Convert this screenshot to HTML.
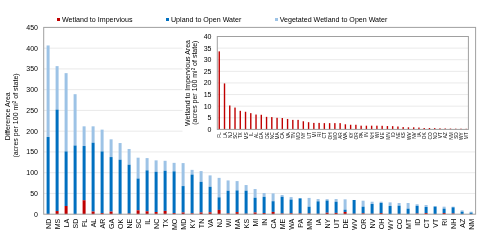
<!DOCTYPE html><html><head><meta charset="utf-8"><style>html,body{margin:0;padding:0;background:#fff;}svg{display:block;will-change:transform;}text{font-family:"Liberation Sans",sans-serif;}</style></head><body>
<svg width="480" height="239" viewBox="0 0 480 239">
<rect x="0" y="0" width="480" height="239" fill="#fff"/>
<line x1="43.7" y1="193.44" x2="475.6" y2="193.44" stroke="#EAEAEA" stroke-width="1"/>
<line x1="43.7" y1="172.69" x2="475.6" y2="172.69" stroke="#EAEAEA" stroke-width="1"/>
<line x1="43.7" y1="151.93" x2="475.6" y2="151.93" stroke="#EAEAEA" stroke-width="1"/>
<line x1="43.7" y1="131.18" x2="475.6" y2="131.18" stroke="#EAEAEA" stroke-width="1"/>
<line x1="43.7" y1="110.42" x2="475.6" y2="110.42" stroke="#EAEAEA" stroke-width="1"/>
<line x1="43.7" y1="89.67" x2="475.6" y2="89.67" stroke="#EAEAEA" stroke-width="1"/>
<line x1="43.7" y1="68.91" x2="475.6" y2="68.91" stroke="#EAEAEA" stroke-width="1"/>
<line x1="43.7" y1="48.16" x2="475.6" y2="48.16" stroke="#EAEAEA" stroke-width="1"/>
<rect x="46.60" y="45.46" width="3.0" height="91.56" fill="#9DC3E6"/>
<rect x="46.60" y="137.02" width="3.0" height="76.95" fill="#0070C0"/>
<rect x="46.60" y="213.97" width="3.0" height="0.23" fill="#C00000"/>
<rect x="55.60" y="66.13" width="3.0" height="43.49" fill="#9DC3E6"/>
<rect x="55.60" y="109.62" width="3.0" height="101.42" fill="#0070C0"/>
<rect x="55.60" y="211.05" width="3.0" height="3.15" fill="#C00000"/>
<rect x="64.60" y="73.15" width="3.0" height="78.27" fill="#9DC3E6"/>
<rect x="64.60" y="151.42" width="3.0" height="54.56" fill="#0070C0"/>
<rect x="64.60" y="205.98" width="3.0" height="8.22" fill="#C00000"/>
<rect x="73.60" y="94.19" width="3.0" height="51.33" fill="#9DC3E6"/>
<rect x="73.60" y="145.52" width="3.0" height="68.56" fill="#0070C0"/>
<rect x="73.60" y="214.08" width="3.0" height="0.12" fill="#C00000"/>
<rect x="82.60" y="126.33" width="3.0" height="19.68" fill="#9DC3E6"/>
<rect x="82.60" y="146.02" width="3.0" height="54.24" fill="#0070C0"/>
<rect x="82.60" y="200.25" width="3.0" height="13.95" fill="#C00000"/>
<rect x="91.60" y="126.33" width="3.0" height="16.38" fill="#9DC3E6"/>
<rect x="91.60" y="142.71" width="3.0" height="68.83" fill="#0070C0"/>
<rect x="91.60" y="211.54" width="3.0" height="2.66" fill="#C00000"/>
<rect x="100.60" y="129.63" width="3.0" height="21.79" fill="#9DC3E6"/>
<rect x="100.60" y="151.42" width="3.0" height="61.66" fill="#0070C0"/>
<rect x="100.60" y="213.08" width="3.0" height="1.12" fill="#C00000"/>
<rect x="109.60" y="139.33" width="3.0" height="17.74" fill="#9DC3E6"/>
<rect x="109.60" y="157.07" width="3.0" height="54.51" fill="#0070C0"/>
<rect x="109.60" y="211.58" width="3.0" height="2.62" fill="#C00000"/>
<rect x="118.60" y="143.04" width="3.0" height="16.67" fill="#9DC3E6"/>
<rect x="118.60" y="159.71" width="3.0" height="54.24" fill="#0070C0"/>
<rect x="118.60" y="213.95" width="3.0" height="0.25" fill="#C00000"/>
<rect x="127.60" y="148.99" width="3.0" height="15.72" fill="#9DC3E6"/>
<rect x="127.60" y="164.71" width="3.0" height="48.97" fill="#0070C0"/>
<rect x="127.60" y="213.68" width="3.0" height="0.52" fill="#C00000"/>
<rect x="136.60" y="157.69" width="3.0" height="20.84" fill="#9DC3E6"/>
<rect x="136.60" y="178.53" width="3.0" height="31.77" fill="#0070C0"/>
<rect x="136.60" y="210.30" width="3.0" height="3.90" fill="#C00000"/>
<rect x="145.60" y="158.10" width="3.0" height="12.25" fill="#9DC3E6"/>
<rect x="145.60" y="170.36" width="3.0" height="40.93" fill="#0070C0"/>
<rect x="145.60" y="211.29" width="3.0" height="2.91" fill="#C00000"/>
<rect x="154.60" y="160.37" width="3.0" height="11.39" fill="#9DC3E6"/>
<rect x="154.60" y="171.76" width="3.0" height="40.24" fill="#0070C0"/>
<rect x="154.60" y="212.00" width="3.0" height="2.20" fill="#C00000"/>
<rect x="163.60" y="160.79" width="3.0" height="9.99" fill="#9DC3E6"/>
<rect x="163.60" y="170.77" width="3.0" height="40.11" fill="#0070C0"/>
<rect x="163.60" y="210.88" width="3.0" height="3.32" fill="#C00000"/>
<rect x="172.60" y="162.85" width="3.0" height="8.50" fill="#9DC3E6"/>
<rect x="172.60" y="171.35" width="3.0" height="41.73" fill="#0070C0"/>
<rect x="172.60" y="213.08" width="3.0" height="1.12" fill="#C00000"/>
<rect x="181.60" y="163.10" width="3.0" height="22.98" fill="#9DC3E6"/>
<rect x="181.60" y="186.08" width="3.0" height="26.42" fill="#0070C0"/>
<rect x="181.60" y="212.50" width="3.0" height="1.70" fill="#C00000"/>
<rect x="190.60" y="169.87" width="3.0" height="4.70" fill="#9DC3E6"/>
<rect x="190.60" y="174.57" width="3.0" height="38.80" fill="#0070C0"/>
<rect x="190.60" y="213.37" width="3.0" height="0.83" fill="#C00000"/>
<rect x="199.60" y="171.10" width="3.0" height="10.73" fill="#9DC3E6"/>
<rect x="199.60" y="181.83" width="3.0" height="30.67" fill="#0070C0"/>
<rect x="199.60" y="212.50" width="3.0" height="1.70" fill="#C00000"/>
<rect x="208.60" y="175.39" width="3.0" height="11.39" fill="#9DC3E6"/>
<rect x="208.60" y="186.78" width="3.0" height="25.55" fill="#0070C0"/>
<rect x="208.60" y="212.33" width="3.0" height="1.87" fill="#C00000"/>
<rect x="217.60" y="177.87" width="3.0" height="19.47" fill="#9DC3E6"/>
<rect x="217.60" y="197.34" width="3.0" height="12.58" fill="#0070C0"/>
<rect x="217.60" y="209.92" width="3.0" height="4.28" fill="#C00000"/>
<rect x="226.60" y="180.43" width="3.0" height="10.31" fill="#9DC3E6"/>
<rect x="226.60" y="190.74" width="3.0" height="22.79" fill="#0070C0"/>
<rect x="226.60" y="213.54" width="3.0" height="0.66" fill="#C00000"/>
<rect x="235.60" y="181.09" width="3.0" height="9.33" fill="#9DC3E6"/>
<rect x="235.60" y="190.41" width="3.0" height="21.71" fill="#0070C0"/>
<rect x="235.60" y="212.12" width="3.0" height="2.08" fill="#C00000"/>
<rect x="244.60" y="185.05" width="3.0" height="5.65" fill="#9DC3E6"/>
<rect x="244.60" y="190.70" width="3.0" height="23.08" fill="#0070C0"/>
<rect x="244.60" y="213.78" width="3.0" height="0.42" fill="#C00000"/>
<rect x="253.60" y="189.05" width="3.0" height="8.67" fill="#9DC3E6"/>
<rect x="253.60" y="197.72" width="3.0" height="14.82" fill="#0070C0"/>
<rect x="253.60" y="212.54" width="3.0" height="1.66" fill="#C00000"/>
<rect x="262.60" y="193.06" width="3.0" height="3.79" fill="#9DC3E6"/>
<rect x="262.60" y="196.85" width="3.0" height="16.19" fill="#0070C0"/>
<rect x="262.60" y="213.04" width="3.0" height="1.16" fill="#C00000"/>
<rect x="271.60" y="193.38" width="3.0" height="7.84" fill="#9DC3E6"/>
<rect x="271.60" y="201.22" width="3.0" height="10.69" fill="#0070C0"/>
<rect x="271.60" y="211.92" width="3.0" height="2.28" fill="#C00000"/>
<rect x="280.60" y="195.02" width="3.0" height="1.74" fill="#9DC3E6"/>
<rect x="280.60" y="196.77" width="3.0" height="16.79" fill="#0070C0"/>
<rect x="280.60" y="213.56" width="3.0" height="0.64" fill="#C00000"/>
<rect x="289.60" y="197.10" width="3.0" height="2.48" fill="#9DC3E6"/>
<rect x="289.60" y="199.57" width="3.0" height="13.71" fill="#0070C0"/>
<rect x="289.60" y="213.29" width="3.0" height="0.91" fill="#C00000"/>
<rect x="298.60" y="198.34" width="3.0" height="0.00" fill="#9DC3E6"/>
<rect x="298.60" y="198.34" width="3.0" height="15.20" fill="#0070C0"/>
<rect x="298.60" y="213.54" width="3.0" height="0.66" fill="#C00000"/>
<rect x="307.60" y="197.92" width="3.0" height="8.79" fill="#9DC3E6"/>
<rect x="307.60" y="206.71" width="3.0" height="6.89" fill="#0070C0"/>
<rect x="307.60" y="213.60" width="3.0" height="0.60" fill="#C00000"/>
<rect x="316.60" y="199.04" width="3.0" height="2.31" fill="#9DC3E6"/>
<rect x="316.60" y="201.35" width="3.0" height="12.52" fill="#0070C0"/>
<rect x="316.60" y="213.87" width="3.0" height="0.33" fill="#C00000"/>
<rect x="325.60" y="199.12" width="3.0" height="1.40" fill="#9DC3E6"/>
<rect x="325.60" y="200.52" width="3.0" height="12.22" fill="#0070C0"/>
<rect x="325.60" y="212.75" width="3.0" height="1.45" fill="#C00000"/>
<rect x="334.60" y="199.04" width="3.0" height="2.68" fill="#9DC3E6"/>
<rect x="334.60" y="201.72" width="3.0" height="11.19" fill="#0070C0"/>
<rect x="334.60" y="212.91" width="3.0" height="1.29" fill="#C00000"/>
<rect x="343.60" y="199.33" width="3.0" height="10.36" fill="#9DC3E6"/>
<rect x="343.60" y="209.68" width="3.0" height="2.28" fill="#0070C0"/>
<rect x="343.60" y="211.96" width="3.0" height="2.24" fill="#C00000"/>
<rect x="352.60" y="199.99" width="3.0" height="0.00" fill="#9DC3E6"/>
<rect x="352.60" y="199.99" width="3.0" height="13.84" fill="#0070C0"/>
<rect x="352.60" y="213.83" width="3.0" height="0.37" fill="#C00000"/>
<rect x="361.60" y="200.69" width="3.0" height="5.98" fill="#9DC3E6"/>
<rect x="361.60" y="206.67" width="3.0" height="6.70" fill="#0070C0"/>
<rect x="361.60" y="213.37" width="3.0" height="0.83" fill="#C00000"/>
<rect x="370.60" y="201.72" width="3.0" height="2.27" fill="#9DC3E6"/>
<rect x="370.60" y="203.99" width="3.0" height="9.84" fill="#0070C0"/>
<rect x="370.60" y="213.83" width="3.0" height="0.37" fill="#C00000"/>
<rect x="379.60" y="201.72" width="3.0" height="1.28" fill="#9DC3E6"/>
<rect x="379.60" y="203.00" width="3.0" height="10.08" fill="#0070C0"/>
<rect x="379.60" y="213.08" width="3.0" height="1.12" fill="#C00000"/>
<rect x="388.60" y="202.38" width="3.0" height="3.63" fill="#9DC3E6"/>
<rect x="388.60" y="206.01" width="3.0" height="8.07" fill="#0070C0"/>
<rect x="388.60" y="214.08" width="3.0" height="0.12" fill="#C00000"/>
<rect x="397.60" y="203.00" width="3.0" height="2.68" fill="#9DC3E6"/>
<rect x="397.60" y="205.68" width="3.0" height="8.27" fill="#0070C0"/>
<rect x="397.60" y="213.95" width="3.0" height="0.25" fill="#C00000"/>
<rect x="406.60" y="203.00" width="3.0" height="5.65" fill="#9DC3E6"/>
<rect x="406.60" y="208.65" width="3.0" height="5.45" fill="#0070C0"/>
<rect x="406.60" y="214.10" width="3.0" height="0.10" fill="#C00000"/>
<rect x="415.60" y="204.24" width="3.0" height="1.61" fill="#9DC3E6"/>
<rect x="415.60" y="205.84" width="3.0" height="7.77" fill="#0070C0"/>
<rect x="415.60" y="213.62" width="3.0" height="0.58" fill="#C00000"/>
<rect x="424.60" y="205.02" width="3.0" height="1.98" fill="#9DC3E6"/>
<rect x="424.60" y="207.00" width="3.0" height="6.08" fill="#0070C0"/>
<rect x="424.60" y="213.08" width="3.0" height="1.12" fill="#C00000"/>
<rect x="433.60" y="206.01" width="3.0" height="0.66" fill="#9DC3E6"/>
<rect x="433.60" y="206.67" width="3.0" height="7.34" fill="#0070C0"/>
<rect x="433.60" y="214.01" width="3.0" height="0.19" fill="#C00000"/>
<rect x="442.60" y="206.67" width="3.0" height="1.98" fill="#9DC3E6"/>
<rect x="442.60" y="208.65" width="3.0" height="4.39" fill="#0070C0"/>
<rect x="442.60" y="213.04" width="3.0" height="1.16" fill="#C00000"/>
<rect x="451.60" y="206.67" width="3.0" height="0.66" fill="#9DC3E6"/>
<rect x="451.60" y="207.33" width="3.0" height="6.21" fill="#0070C0"/>
<rect x="451.60" y="213.54" width="3.0" height="0.66" fill="#C00000"/>
<rect x="460.60" y="210.30" width="3.0" height="1.40" fill="#9DC3E6"/>
<rect x="460.60" y="211.70" width="3.0" height="2.33" fill="#0070C0"/>
<rect x="460.60" y="214.03" width="3.0" height="0.17" fill="#C00000"/>
<rect x="469.60" y="211.70" width="3.0" height="0.95" fill="#9DC3E6"/>
<rect x="469.60" y="212.65" width="3.0" height="1.40" fill="#0070C0"/>
<rect x="469.60" y="214.05" width="3.0" height="0.15" fill="#C00000"/>
<rect x="43.7" y="27.4" width="431.90000000000003" height="186.79999999999998" fill="none" stroke="#A0A0A0" stroke-width="1"/>
<text x="38" y="216.70" font-size="7" text-anchor="end" fill="#000000">0</text>
<text x="38" y="195.94" font-size="7" text-anchor="end" fill="#000000">50</text>
<text x="38" y="175.19" font-size="7" text-anchor="end" fill="#000000">100</text>
<text x="38" y="154.43" font-size="7" text-anchor="end" fill="#000000">150</text>
<text x="38" y="133.68" font-size="7" text-anchor="end" fill="#000000">200</text>
<text x="38" y="112.92" font-size="7" text-anchor="end" fill="#000000">250</text>
<text x="38" y="92.17" font-size="7" text-anchor="end" fill="#000000">300</text>
<text x="38" y="71.41" font-size="7" text-anchor="end" fill="#000000">350</text>
<text x="38" y="50.66" font-size="7" text-anchor="end" fill="#000000">400</text>
<text x="38" y="29.90" font-size="7" text-anchor="end" fill="#000000">450</text>
<text transform="translate(50.90,218.8) rotate(-90)" font-size="7" text-anchor="end" fill="#000000">ND</text>
<text transform="translate(59.90,218.8) rotate(-90)" font-size="7" text-anchor="end" fill="#000000">MS</text>
<text transform="translate(68.90,218.8) rotate(-90)" font-size="7" text-anchor="end" fill="#000000">LA</text>
<text transform="translate(77.90,218.8) rotate(-90)" font-size="7" text-anchor="end" fill="#000000">SD</text>
<text transform="translate(86.90,218.8) rotate(-90)" font-size="7" text-anchor="end" fill="#000000">FL</text>
<text transform="translate(95.90,218.8) rotate(-90)" font-size="7" text-anchor="end" fill="#000000">AL</text>
<text transform="translate(104.90,218.8) rotate(-90)" font-size="7" text-anchor="end" fill="#000000">AR</text>
<text transform="translate(113.90,218.8) rotate(-90)" font-size="7" text-anchor="end" fill="#000000">GA</text>
<text transform="translate(122.90,218.8) rotate(-90)" font-size="7" text-anchor="end" fill="#000000">OK</text>
<text transform="translate(131.90,218.8) rotate(-90)" font-size="7" text-anchor="end" fill="#000000">NE</text>
<text transform="translate(140.90,218.8) rotate(-90)" font-size="7" text-anchor="end" fill="#000000">SC</text>
<text transform="translate(149.90,218.8) rotate(-90)" font-size="7" text-anchor="end" fill="#000000">IL</text>
<text transform="translate(158.90,218.8) rotate(-90)" font-size="7" text-anchor="end" fill="#000000">NC</text>
<text transform="translate(167.90,218.8) rotate(-90)" font-size="7" text-anchor="end" fill="#000000">TX</text>
<text transform="translate(176.90,218.8) rotate(-90)" font-size="7" text-anchor="end" fill="#000000">MO</text>
<text transform="translate(185.90,218.8) rotate(-90)" font-size="7" text-anchor="end" fill="#000000">MD</text>
<text transform="translate(194.90,218.8) rotate(-90)" font-size="7" text-anchor="end" fill="#000000">KY</text>
<text transform="translate(203.90,218.8) rotate(-90)" font-size="7" text-anchor="end" fill="#000000">TN</text>
<text transform="translate(212.90,218.8) rotate(-90)" font-size="7" text-anchor="end" fill="#000000">VA</text>
<text transform="translate(221.90,218.8) rotate(-90)" font-size="7" text-anchor="end" fill="#000000">NJ</text>
<text transform="translate(230.90,218.8) rotate(-90)" font-size="7" text-anchor="end" fill="#000000">WI</text>
<text transform="translate(239.90,218.8) rotate(-90)" font-size="7" text-anchor="end" fill="#000000">MA</text>
<text transform="translate(248.90,218.8) rotate(-90)" font-size="7" text-anchor="end" fill="#000000">KS</text>
<text transform="translate(257.90,218.8) rotate(-90)" font-size="7" text-anchor="end" fill="#000000">MI</text>
<text transform="translate(266.90,218.8) rotate(-90)" font-size="7" text-anchor="end" fill="#000000">IN</text>
<text transform="translate(275.90,218.8) rotate(-90)" font-size="7" text-anchor="end" fill="#000000">CA</text>
<text transform="translate(284.90,218.8) rotate(-90)" font-size="7" text-anchor="end" fill="#000000">ME</text>
<text transform="translate(293.90,218.8) rotate(-90)" font-size="7" text-anchor="end" fill="#000000">WA</text>
<text transform="translate(302.90,218.8) rotate(-90)" font-size="7" text-anchor="end" fill="#000000">PA</text>
<text transform="translate(311.90,218.8) rotate(-90)" font-size="7" text-anchor="end" fill="#000000">MN</text>
<text transform="translate(320.90,218.8) rotate(-90)" font-size="7" text-anchor="end" fill="#000000">IA</text>
<text transform="translate(329.90,218.8) rotate(-90)" font-size="7" text-anchor="end" fill="#000000">NY</text>
<text transform="translate(338.90,218.8) rotate(-90)" font-size="7" text-anchor="end" fill="#000000">UT</text>
<text transform="translate(347.90,218.8) rotate(-90)" font-size="7" text-anchor="end" fill="#000000">DE</text>
<text transform="translate(356.90,218.8) rotate(-90)" font-size="7" text-anchor="end" fill="#000000">WV</text>
<text transform="translate(365.90,218.8) rotate(-90)" font-size="7" text-anchor="end" fill="#000000">OR</text>
<text transform="translate(374.90,218.8) rotate(-90)" font-size="7" text-anchor="end" fill="#000000">NV</text>
<text transform="translate(383.90,218.8) rotate(-90)" font-size="7" text-anchor="end" fill="#000000">OH</text>
<text transform="translate(392.90,218.8) rotate(-90)" font-size="7" text-anchor="end" fill="#000000">WY</text>
<text transform="translate(401.90,218.8) rotate(-90)" font-size="7" text-anchor="end" fill="#000000">CO</text>
<text transform="translate(410.90,218.8) rotate(-90)" font-size="7" text-anchor="end" fill="#000000">MT</text>
<text transform="translate(419.90,218.8) rotate(-90)" font-size="7" text-anchor="end" fill="#000000">ID</text>
<text transform="translate(428.90,218.8) rotate(-90)" font-size="7" text-anchor="end" fill="#000000">CT</text>
<text transform="translate(437.90,218.8) rotate(-90)" font-size="7" text-anchor="end" fill="#000000">VT</text>
<text transform="translate(446.90,218.8) rotate(-90)" font-size="7" text-anchor="end" fill="#000000">RI</text>
<text transform="translate(455.90,218.8) rotate(-90)" font-size="7" text-anchor="end" fill="#000000">NH</text>
<text transform="translate(464.90,218.8) rotate(-90)" font-size="7" text-anchor="end" fill="#000000">AZ</text>
<text transform="translate(473.90,218.8) rotate(-90)" font-size="7" text-anchor="end" fill="#000000">NM</text>
<text transform="translate(9.8,116.3) rotate(-90)" font-size="7" text-anchor="middle" fill="#000000">Difference Area</text>
<text transform="translate(18.2,115.5) rotate(-90)" font-size="7" text-anchor="middle" fill="#000000">(acres per 100 mi<tspan font-size="4.5" dy="-2">2</tspan><tspan dy="2"> of state)</tspan></text>
<rect x="57" y="18" width="3" height="3" fill="#C00000"/>
<text x="62" y="21.9" font-size="7.1" fill="#000000">Wetland to Impervious</text>
<rect x="166" y="18" width="3" height="3" fill="#0070C0"/>
<text x="171" y="21.9" font-size="7.1" fill="#000000">Upland to Open Water</text>
<rect x="275" y="18" width="3" height="3" fill="#9DC3E6"/>
<text x="279.7" y="21.9" font-size="7.1" fill="#000000">Vegetated Wetland to Open Water</text>
<rect x="182.5" y="28" width="292.5" height="120" fill="#fff"/>
<line x1="217.3" y1="117.79" x2="468.4" y2="117.79" stroke="#EAEAEA" stroke-width="1"/>
<line x1="217.3" y1="106.18" x2="468.4" y2="106.18" stroke="#EAEAEA" stroke-width="1"/>
<line x1="217.3" y1="94.56" x2="468.4" y2="94.56" stroke="#EAEAEA" stroke-width="1"/>
<line x1="217.3" y1="82.95" x2="468.4" y2="82.95" stroke="#EAEAEA" stroke-width="1"/>
<line x1="217.3" y1="71.34" x2="468.4" y2="71.34" stroke="#EAEAEA" stroke-width="1"/>
<line x1="217.3" y1="59.73" x2="468.4" y2="59.73" stroke="#EAEAEA" stroke-width="1"/>
<line x1="217.3" y1="48.11" x2="468.4" y2="48.11" stroke="#EAEAEA" stroke-width="1"/>
<rect x="218.55" y="51.36" width="1.4" height="78.04" fill="#C00000"/>
<rect x="223.81" y="83.41" width="1.4" height="45.99" fill="#C00000"/>
<rect x="229.06" y="105.48" width="1.4" height="23.92" fill="#C00000"/>
<rect x="234.31" y="107.57" width="1.4" height="21.83" fill="#C00000"/>
<rect x="239.57" y="110.82" width="1.4" height="18.58" fill="#C00000"/>
<rect x="244.83" y="111.75" width="1.4" height="17.65" fill="#C00000"/>
<rect x="250.08" y="113.14" width="1.4" height="16.26" fill="#C00000"/>
<rect x="255.33" y="114.54" width="1.4" height="14.86" fill="#C00000"/>
<rect x="260.59" y="114.77" width="1.4" height="14.63" fill="#C00000"/>
<rect x="265.85" y="116.86" width="1.4" height="12.54" fill="#C00000"/>
<rect x="271.10" y="117.09" width="1.4" height="12.31" fill="#C00000"/>
<rect x="276.36" y="117.79" width="1.4" height="11.61" fill="#C00000"/>
<rect x="281.61" y="118.02" width="1.4" height="11.38" fill="#C00000"/>
<rect x="286.87" y="118.95" width="1.4" height="10.45" fill="#C00000"/>
<rect x="292.12" y="119.88" width="1.4" height="9.52" fill="#C00000"/>
<rect x="297.38" y="119.88" width="1.4" height="9.52" fill="#C00000"/>
<rect x="302.63" y="121.27" width="1.4" height="8.13" fill="#C00000"/>
<rect x="307.88" y="122.20" width="1.4" height="7.20" fill="#C00000"/>
<rect x="313.14" y="122.90" width="1.4" height="6.50" fill="#C00000"/>
<rect x="318.40" y="122.90" width="1.4" height="6.50" fill="#C00000"/>
<rect x="323.65" y="123.13" width="1.4" height="6.27" fill="#C00000"/>
<rect x="328.91" y="123.13" width="1.4" height="6.27" fill="#C00000"/>
<rect x="334.16" y="123.13" width="1.4" height="6.27" fill="#C00000"/>
<rect x="339.42" y="123.13" width="1.4" height="6.27" fill="#C00000"/>
<rect x="344.67" y="124.29" width="1.4" height="5.11" fill="#C00000"/>
<rect x="349.93" y="124.76" width="1.4" height="4.64" fill="#C00000"/>
<rect x="355.18" y="124.76" width="1.4" height="4.64" fill="#C00000"/>
<rect x="360.44" y="125.68" width="1.4" height="3.72" fill="#C00000"/>
<rect x="365.69" y="125.68" width="1.4" height="3.72" fill="#C00000"/>
<rect x="370.94" y="125.68" width="1.4" height="3.72" fill="#C00000"/>
<rect x="376.20" y="125.68" width="1.4" height="3.72" fill="#C00000"/>
<rect x="381.45" y="125.80" width="1.4" height="3.60" fill="#C00000"/>
<rect x="386.71" y="126.03" width="1.4" height="3.37" fill="#C00000"/>
<rect x="391.96" y="126.15" width="1.4" height="3.25" fill="#C00000"/>
<rect x="397.22" y="126.50" width="1.4" height="2.90" fill="#C00000"/>
<rect x="402.47" y="127.08" width="1.4" height="2.32" fill="#C00000"/>
<rect x="407.73" y="127.31" width="1.4" height="2.09" fill="#C00000"/>
<rect x="412.99" y="127.31" width="1.4" height="2.09" fill="#C00000"/>
<rect x="418.24" y="127.54" width="1.4" height="1.86" fill="#C00000"/>
<rect x="423.50" y="128.01" width="1.4" height="1.39" fill="#C00000"/>
<rect x="428.75" y="128.01" width="1.4" height="1.39" fill="#C00000"/>
<rect x="434.00" y="128.12" width="1.4" height="1.28" fill="#C00000"/>
<rect x="439.26" y="128.35" width="1.4" height="1.05" fill="#C00000"/>
<rect x="444.52" y="128.47" width="1.4" height="0.93" fill="#C00000"/>
<rect x="449.77" y="128.59" width="1.4" height="0.81" fill="#C00000"/>
<rect x="455.03" y="128.70" width="1.4" height="0.70" fill="#C00000"/>
<rect x="460.28" y="128.70" width="1.4" height="0.70" fill="#C00000"/>
<rect x="465.54" y="128.82" width="1.4" height="0.58" fill="#C00000"/>
<rect x="217.3" y="36.5" width="251.10" height="92.90" fill="none" stroke="#A0A0A0" stroke-width="1"/>
<text x="211.5" y="131.90" font-size="7" text-anchor="end" fill="#000000">0</text>
<text x="211.5" y="120.29" font-size="7" text-anchor="end" fill="#000000">5</text>
<text x="211.5" y="108.68" font-size="7" text-anchor="end" fill="#000000">10</text>
<text x="211.5" y="97.06" font-size="7" text-anchor="end" fill="#000000">15</text>
<text x="211.5" y="85.45" font-size="7" text-anchor="end" fill="#000000">20</text>
<text x="211.5" y="73.84" font-size="7" text-anchor="end" fill="#000000">25</text>
<text x="211.5" y="62.23" font-size="7" text-anchor="end" fill="#000000">30</text>
<text x="211.5" y="50.61" font-size="7" text-anchor="end" fill="#000000">35</text>
<text x="211.5" y="39.00" font-size="7" text-anchor="end" fill="#000000">40</text>
<text transform="translate(221.35,132.2) rotate(-90)" font-size="4.8" text-anchor="end" fill="#000000">FL</text>
<text transform="translate(226.60,132.2) rotate(-90)" font-size="4.8" text-anchor="end" fill="#000000">LA</text>
<text transform="translate(231.86,132.2) rotate(-90)" font-size="4.8" text-anchor="end" fill="#000000">NJ</text>
<text transform="translate(237.11,132.2) rotate(-90)" font-size="4.8" text-anchor="end" fill="#000000">SC</text>
<text transform="translate(242.37,132.2) rotate(-90)" font-size="4.8" text-anchor="end" fill="#000000">TX</text>
<text transform="translate(247.62,132.2) rotate(-90)" font-size="4.8" text-anchor="end" fill="#000000">MS</text>
<text transform="translate(252.88,132.2) rotate(-90)" font-size="4.8" text-anchor="end" fill="#000000">IL</text>
<text transform="translate(258.13,132.2) rotate(-90)" font-size="4.8" text-anchor="end" fill="#000000">AL</text>
<text transform="translate(263.39,132.2) rotate(-90)" font-size="4.8" text-anchor="end" fill="#000000">GA</text>
<text transform="translate(268.65,132.2) rotate(-90)" font-size="4.8" text-anchor="end" fill="#000000">DE</text>
<text transform="translate(273.90,132.2) rotate(-90)" font-size="4.8" text-anchor="end" fill="#000000">NC</text>
<text transform="translate(279.16,132.2) rotate(-90)" font-size="4.8" text-anchor="end" fill="#000000">MA</text>
<text transform="translate(284.41,132.2) rotate(-90)" font-size="4.8" text-anchor="end" fill="#000000">CA</text>
<text transform="translate(289.67,132.2) rotate(-90)" font-size="4.8" text-anchor="end" fill="#000000">VA</text>
<text transform="translate(294.92,132.2) rotate(-90)" font-size="4.8" text-anchor="end" fill="#000000">TN</text>
<text transform="translate(300.18,132.2) rotate(-90)" font-size="4.8" text-anchor="end" fill="#000000">MD</text>
<text transform="translate(305.43,132.2) rotate(-90)" font-size="4.8" text-anchor="end" fill="#000000">NY</text>
<text transform="translate(310.69,132.2) rotate(-90)" font-size="4.8" text-anchor="end" fill="#000000">UT</text>
<text transform="translate(315.94,132.2) rotate(-90)" font-size="4.8" text-anchor="end" fill="#000000">MI</text>
<text transform="translate(321.20,132.2) rotate(-90)" font-size="4.8" text-anchor="end" fill="#000000">RI</text>
<text transform="translate(326.45,132.2) rotate(-90)" font-size="4.8" text-anchor="end" fill="#000000">CT</text>
<text transform="translate(331.71,132.2) rotate(-90)" font-size="4.8" text-anchor="end" fill="#000000">OH</text>
<text transform="translate(336.96,132.2) rotate(-90)" font-size="4.8" text-anchor="end" fill="#000000">MO</text>
<text transform="translate(342.22,132.2) rotate(-90)" font-size="4.8" text-anchor="end" fill="#000000">AR</text>
<text transform="translate(347.47,132.2) rotate(-90)" font-size="4.8" text-anchor="end" fill="#000000">WA</text>
<text transform="translate(352.73,132.2) rotate(-90)" font-size="4.8" text-anchor="end" fill="#000000">KY</text>
<text transform="translate(357.98,132.2) rotate(-90)" font-size="4.8" text-anchor="end" fill="#000000">OR</text>
<text transform="translate(363.24,132.2) rotate(-90)" font-size="4.8" text-anchor="end" fill="#000000">PA</text>
<text transform="translate(368.49,132.2) rotate(-90)" font-size="4.8" text-anchor="end" fill="#000000">IN</text>
<text transform="translate(373.75,132.2) rotate(-90)" font-size="4.8" text-anchor="end" fill="#000000">NH</text>
<text transform="translate(379.00,132.2) rotate(-90)" font-size="4.8" text-anchor="end" fill="#000000">WI</text>
<text transform="translate(384.25,132.2) rotate(-90)" font-size="4.8" text-anchor="end" fill="#000000">ME</text>
<text transform="translate(389.51,132.2) rotate(-90)" font-size="4.8" text-anchor="end" fill="#000000">MN</text>
<text transform="translate(394.76,132.2) rotate(-90)" font-size="4.8" text-anchor="end" fill="#000000">ID</text>
<text transform="translate(400.02,132.2) rotate(-90)" font-size="4.8" text-anchor="end" fill="#000000">NE</text>
<text transform="translate(405.27,132.2) rotate(-90)" font-size="4.8" text-anchor="end" fill="#000000">KS</text>
<text transform="translate(410.53,132.2) rotate(-90)" font-size="4.8" text-anchor="end" fill="#000000">WV</text>
<text transform="translate(415.79,132.2) rotate(-90)" font-size="4.8" text-anchor="end" fill="#000000">NV</text>
<text transform="translate(421.04,132.2) rotate(-90)" font-size="4.8" text-anchor="end" fill="#000000">IA</text>
<text transform="translate(426.30,132.2) rotate(-90)" font-size="4.8" text-anchor="end" fill="#000000">OK</text>
<text transform="translate(431.55,132.2) rotate(-90)" font-size="4.8" text-anchor="end" fill="#000000">CO</text>
<text transform="translate(436.81,132.2) rotate(-90)" font-size="4.8" text-anchor="end" fill="#000000">ND</text>
<text transform="translate(442.06,132.2) rotate(-90)" font-size="4.8" text-anchor="end" fill="#000000">VT</text>
<text transform="translate(447.32,132.2) rotate(-90)" font-size="4.8" text-anchor="end" fill="#000000">AZ</text>
<text transform="translate(452.57,132.2) rotate(-90)" font-size="4.8" text-anchor="end" fill="#000000">NM</text>
<text transform="translate(457.83,132.2) rotate(-90)" font-size="4.8" text-anchor="end" fill="#000000">SD</text>
<text transform="translate(463.08,132.2) rotate(-90)" font-size="4.8" text-anchor="end" fill="#000000">WY</text>
<text transform="translate(468.34,132.2) rotate(-90)" font-size="4.8" text-anchor="end" fill="#000000">MT</text>
<text transform="translate(189.6,83) rotate(-90)" font-size="7" text-anchor="middle" fill="#000000">Wetland to Impervious Area</text>
<text transform="translate(197.4,82.7) rotate(-90)" font-size="7" text-anchor="middle" fill="#000000">(acres per 100 mi<tspan font-size="4.5" dy="-2">2</tspan><tspan dy="2"> of state)</tspan></text>
</svg></body></html>
